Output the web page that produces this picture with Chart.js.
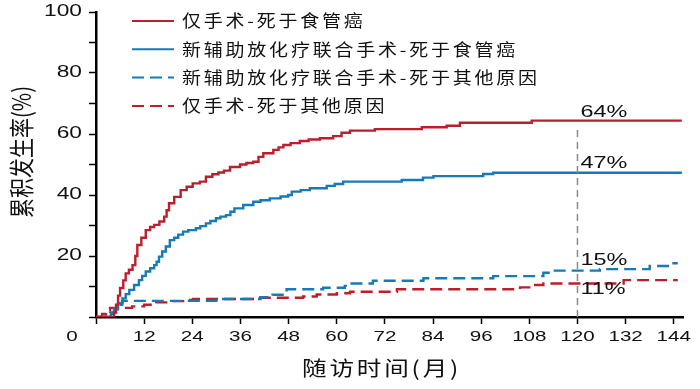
<!DOCTYPE html>
<html>
<head>
<meta charset="utf-8">
<script src="https://cdn.jsdelivr.net/npm/chart.js@4/dist/chart.umd.min.js"></script>
<style>
  html, body { margin: 0; padding: 0; background: #fff; }
  canvas { display: block; }
</style>
</head>
<body>
<canvas id="chart" width="700" height="389"></canvas>
<script>
// данные: месяцы и накопленная частота (%) для каждой группы
const seriesLabels = [
  '仅手术-死于食管癌',
  '新辅助放化疗联合手术-死于食管癌',
  '新辅助放化疗联合手术-死于其他原因',
  '仅手术-死于其他原因'
];

const surgeryCancerMonths = [0, 3.9, 4.5, 5, 5.5, 6, 6.8, 7.4, 8.2, 9.1, 9.8, 10.3, 11.3, 12.4, 13.5, 14.5, 15.8, 17, 17.6, 18.2, 19.5, 21.1, 22.6, 24.1, 25.9, 27.4, 29, 30.5, 31.9, 33.4, 35.9, 37.5, 39.2, 40.5, 41.7, 44.2, 45.5, 46.7, 48.5, 50.8, 53, 55.8, 59.1, 61.2, 63.3, 69.5, 81.2, 87.4, 90.7, 108.6, 146];
const surgeryCancerValues = [0, 0, 1.5, 4, 7, 9.5, 12, 14.3, 15.5, 17, 20, 23.6, 26, 28.5, 29.5, 30.2, 31.3, 32.9, 35, 37.3, 39.4, 41.6, 42.7, 43.8, 44.4, 46, 46.8, 47.4, 48, 49.2, 50, 50.5, 50.9, 52.5, 53.7, 54.8, 55.6, 56.4, 57, 57.7, 58.2, 58.6, 59.3, 60.4, 61.1, 61.6, 62.2, 62.7, 63.7, 64.4, 64.4];

const neoCancerMonths = [0, 2.8, 3.7, 4.5, 5.5, 6.6, 7.4, 8.3, 9.5, 10.7, 11.5, 12.4, 13.5, 14.5, 15.1, 15.7, 16.5, 17.4, 18.4, 19.5, 20.5, 21.7, 23, 24.9, 26, 27.4, 28.5, 29.9, 31, 32.4, 33.5, 34.5, 36.7, 39.2, 41, 43.3, 46, 47.9, 48.8, 51, 53.3, 57.5, 59.5, 61.6, 76.2, 81.5, 84.1, 96.5, 99, 146];
const neoCancerValues = [0, 0, 1, 2.5, 4.5, 6.1, 7.5, 8.9, 10.5, 12.1, 13.5, 14.9, 16, 17, 18.1, 19.8, 21.5, 23.1, 25.2, 26, 27, 28, 28.5, 29.1, 29.8, 30.7, 31.5, 32.4, 32.9, 33.4, 34.5, 35.6, 36.7, 37.8, 38.3, 38.9, 39.5, 40, 41.1, 41.6, 42.2, 43, 43.6, 44.4, 44.9, 45.7, 46.2, 46.9, 47.3, 47.3];

const neoOtherMonths = [0, 2.5, 3.5, 4.5, 5.5, 6.5, 30, 41, 44, 47.5, 56.6, 62, 63.3, 69, 81.6, 99, 111.5, 114, 125.6, 138, 143, 145];
const neoOtherValues = [0, 0.5, 1.5, 2.8, 4, 5.3, 5.9, 6.5, 7.3, 9.1, 9.6, 10.2, 11, 11.9, 12.7, 13.4, 14.5, 15.2, 15.7, 16.7, 17.6, 17.6];

const surgeryOtherMonths = [0.5, 1.5, 2.5, 3.5, 9, 12, 15, 18, 21.7, 24.2, 40, 51.6, 55, 60, 63.3, 75, 105.7, 109, 111.5, 131.5, 145];
const surgeryOtherValues = [0, 1, 2.2, 3, 3.5, 4, 4.8, 5.2, 5.6, 5.9, 6.3, 6.7, 7.4, 7.8, 8.3, 9.1, 9.7, 10.5, 11, 12.1, 12.1];

// деления осей
const xTickMonths = [12, 24, 36, 48, 60, 72, 84, 96, 108, 120, 132, 144];
const yTickValues = [20, 40, 60, 80, 100];

// подписи на 120 месяце
const markMonth = 120;
const markLineTop = 61.3;
const markTexts = ['64%', '47%', '15%', '11%'];
const markValues = [67.2, 50.5, 18.4, 8.9];

const RED = 'rgb(188,30,45)';
const BLUE = 'rgb(22,122,182)';
const LATIN = '"Liberation Sans", Arial, sans-serif';
const CJK = '"Noto Sans CJK SC", "Noto Sans", sans-serif';
const SX = 1.42; // цифры на оригинале растянуты по горизонтали

function pts(xs, ys) {
  return xs.map((m, i) => ({ x: m, y: ys[i] }));
}

// растянутый текст
function wideText(ctx, text, x, y, align) {
  const w = ctx.measureText(text).width * SX;
  let left = x;
  if (align === 'center') left = x - w / 2;
  if (align === 'right') left = x - w;
  ctx.save();
  ctx.translate(left, y);
  ctx.scale(SX, 1);
  ctx.textAlign = 'left';
  ctx.textBaseline = 'middle';
  ctx.fillText(text, 0, 0);
  ctx.restore();
}

// иероглифы: немного растянуты и с разрядкой
function cjkText(ctx, text, x, y, sx, gap) {
  ctx.save();
  ctx.translate(x, y);
  ctx.scale(sx, 1);
  ctx.textAlign = 'left';
  ctx.textBaseline = 'middle';
  let cx = 0;
  for (const ch of text) {
    ctx.fillText(ch, cx, 0);
    cx += ctx.measureText(ch).width + gap / sx;
  }
  ctx.restore();
}

const overlay = {
  id: 'overlay',
  afterDatasetsDraw(chart) {
    const { ctx, scales: { x, y } } = chart;
    // вертикальная пунктирная линия на 120 мес
    ctx.save();
    ctx.strokeStyle = '#8a8a8a';
    ctx.lineWidth = 1.5;
    ctx.setLineDash([7, 5]);
    ctx.beginPath();
    ctx.moveTo(x.getPixelForValue(markMonth), y.getPixelForValue(markLineTop));
    ctx.lineTo(x.getPixelForValue(markMonth), y.getPixelForValue(0));
    ctx.stroke();
    ctx.restore();
  },
  afterDraw(chart) {
    const { ctx, scales: { x, y } } = chart;
    ctx.save();
    ctx.fillStyle = '#111';

    // подписи делений
    ctx.font = '14.5px ' + LATIN;
    xTickMonths.forEach(m => wideText(ctx, String(m), x.getPixelForValue(m), 337, 'center'));
    wideText(ctx, '0', 72, 337, 'center');
    ctx.font = '16px ' + LATIN;
    yTickValues.forEach(v => wideText(ctx, String(v), 82, y.getPixelForValue(v), 'right'));

    // проценты
    ctx.font = '16.5px ' + LATIN;
    markTexts.forEach((t, i) => wideText(ctx, t, x.getPixelForValue(markMonth) + 3, y.getPixelForValue(markValues[i]), 'left'));

    // легенда
    chart.data.datasets.forEach((ds, i) => {
      const ly = 21 + i * 28.3;
      ctx.save();
      ctx.strokeStyle = ds.borderColor;
      ctx.lineWidth = 2;
      ctx.setLineDash(ds.borderDash || []);
      ctx.beginPath();
      ctx.moveTo(132, ly);
      ctx.lineTo(174, ly);
      ctx.stroke();
      ctx.restore();
      ctx.font = '16.5px ' + CJK;
      cjkText(ctx, ds.label, 182, ly, 1.15, 2.8);
    });

    // названия осей
    ctx.font = '20.5px ' + CJK;
    cjkText(ctx, '随访时间(月)', 302, 368, 1.2, 2.8);
    ctx.textAlign = 'center';
    ctx.textBaseline = 'middle';
    ctx.font = '20px ' + CJK;
    ctx.translate(22, 152);
    ctx.scale(1.25, 1);
    ctx.rotate(-Math.PI / 2);
    ctx.fillText('累积发生率(%)', 0, 0);
    ctx.restore();
  }
};

function lineSet(label, data, color, dash) {
  return {
    label,
    data,
    borderColor: color,
    borderWidth: 2.4,
    borderDash: dash,
    showLine: true,
    stepped: true,
    pointRadius: 0,
    fill: false
  };
}

new Chart(document.getElementById('chart'), {
  type: 'scatter',
  data: {
    datasets: [
      lineSet(seriesLabels[0], pts(surgeryCancerMonths, surgeryCancerValues), RED, []),
      lineSet(seriesLabels[1], pts(neoCancerMonths, neoCancerValues), BLUE, []),
      lineSet(seriesLabels[2], pts(neoOtherMonths, neoOtherValues), BLUE, [12, 6]),
      lineSet(seriesLabels[3], pts(surgeryOtherMonths, surgeryOtherValues), RED, [12, 6])
    ]
  },
  options: {
    responsive: false,
    animation: false,
    devicePixelRatio: 1,
    layout: { padding: { top: 12, right: 17, left: 0, bottom: 0 } },
    plugins: { legend: { display: false }, tooltip: { enabled: false } },
    scales: {
      x: {
        type: 'linear',
        min: 0,
        max: 146.3,
        afterFit: s => { s.height = 72; },
        ticks: { display: false, stepSize: 12, includeBounds: false },
        grid: { drawOnChartArea: false, tickLength: 7, tickColor: '#000', tickWidth: 1.5 },
        border: { color: '#000', width: 2.5 }
      },
      y: {
        min: 0,
        max: 100,
        afterFit: s => { s.width = 96; },
        ticks: { display: false, stepSize: 10 },
        grid: { drawOnChartArea: false, tickLength: 7, tickColor: '#000', tickWidth: 1.5 },
        border: { color: '#000', width: 2.5 }
      }
    }
  },
  plugins: [overlay]
});
</script>
</body>
</html>
